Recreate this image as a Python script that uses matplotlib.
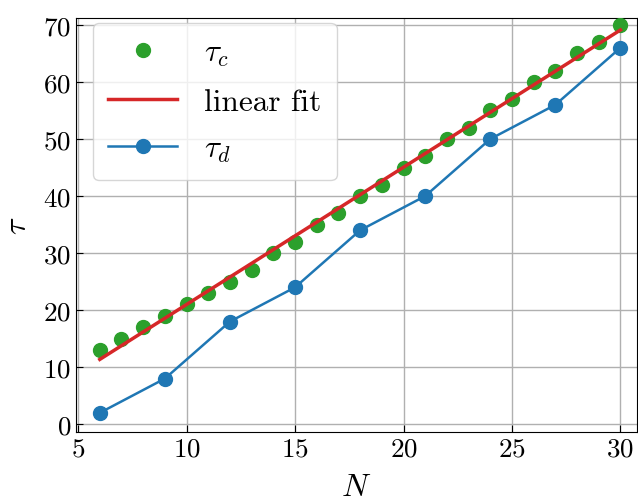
import numpy as np
import matplotlib
matplotlib.use('Agg')
import matplotlib.pyplot as plt

# данные
N_c = [6, 7, 8, 9, 10, 11, 12, 13, 14, 15, 16, 17, 18, 19, 20, 21, 22, 23, 24, 25, 26, 27, 28, 29, 30]
tau_c = [13, 15, 17, 19, 21, 23, 25, 27, 30, 32, 35, 37, 40, 42, 45, 47, 50, 52, 55, 57, 60, 62, 65, 67, 70]
N_d = [6, 9, 12, 15, 18, 21, 24, 27, 30]
tau_d = [2, 8, 18, 24, 34, 40, 50, 56, 66]

plt.rcParams['font.family'] = 'serif'
plt.rcParams['font.serif'] = ['cmr10']
plt.rcParams['mathtext.fontset'] = 'cm'
plt.rcParams['axes.formatter.use_mathtext'] = True

fig, ax = plt.subplots(figsize=(6.38, 5.02), dpi=100)

# линейная аппроксимация
coef = np.polyfit(N_c, tau_c, 1)
fit = np.polyval(coef, N_c)

ax.plot(N_c, tau_c, 'o', color='#2ca02c', markersize=10, label=r'$\tau_c$', zorder=3)
ax.plot(N_c, fit, '-', color='#d62728', linewidth=2.5, label='linear fit', zorder=4)
ax.plot(N_d, tau_d, 'o-', color='#1f77b4', markersize=10, linewidth=1.8, label=r'$\tau_d$', zorder=3)

ax.set_xlim(4.9, 30.75)
ax.set_ylim(-1.4, 71.2)
ax.set_xticks([5, 10, 15, 20, 25, 30])
ax.set_yticks([0, 10, 20, 30, 40, 50, 60, 70])
ax.tick_params(direction='in', labelsize=19.5, length=5)
ax.set_xlabel(r'$N$', fontsize=23, labelpad=9)
ax.set_ylabel(r'$\tau$', fontsize=23, labelpad=8)
ax.grid(True, color='#b0b0b0', linewidth=1)
ax.set_axisbelow(True)

ax.legend(loc='upper left', bbox_to_anchor=(0.030, 0.988), borderaxespad=0,
          fontsize=22.5, labelspacing=0.63, handlelength=2.2,
          borderpad=0.5, handletextpad=0.85)

plt.subplots_adjust(left=0.119, right=0.998, top=0.962, bottom=0.137)
plt.savefig('out.png', dpi=100)
